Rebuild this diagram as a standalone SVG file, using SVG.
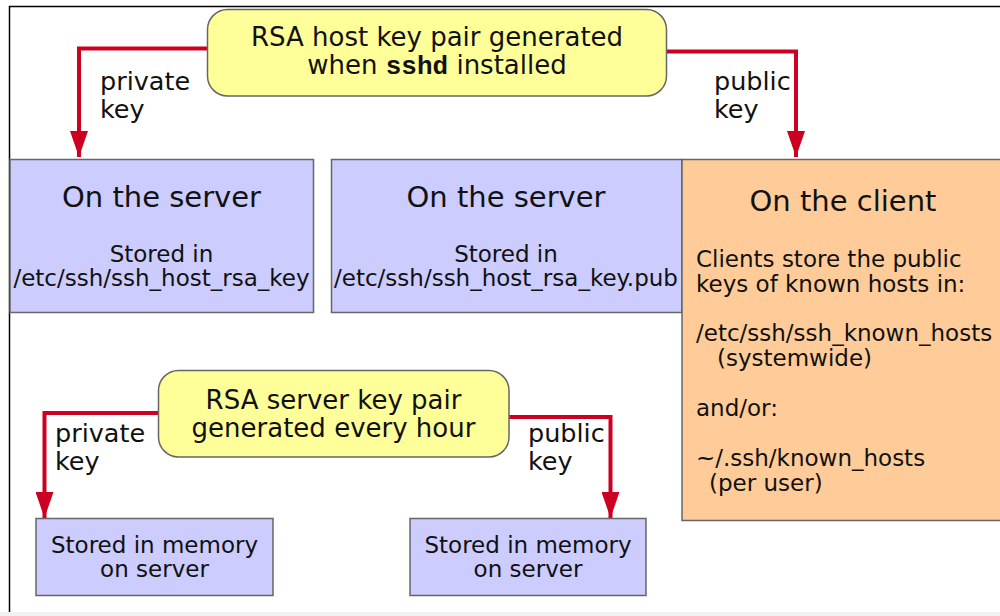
<svg xmlns="http://www.w3.org/2000/svg" width="1000" height="616" viewBox="0 0 1000 616">
<style>
text{font-family:"DejaVu Sans","Noto Sans",sans-serif;fill:#111}
.gen{fill:#ffff99;stroke:#666;stroke-width:1.5}
.srv{fill:#ccccff;stroke:#666;stroke-width:1.5}
.cli{fill:#ffcc99;stroke:#666;stroke-width:1.5}
.t26{font-size:26px}
.t29{font-size:29px}
.t23{font-size:23px}
.lbl{font-size:25.5px}
.c{text-anchor:middle}
.mono{font-family:"Liberation Mono","DejaVu Sans Mono",monospace;font-weight:bold}
.conn{fill:none;stroke:#cc0020;stroke-width:4}
</style>
<defs>
<marker id="ah" viewBox="0 0 26 18" refX="26" refY="9" markerWidth="26" markerHeight="18" markerUnits="userSpaceOnUse" orient="auto">
<path d="M0,0 L26,9 L0,18 Z" fill="#cc0020"/>
</marker>
</defs>
<rect width="1000" height="616" fill="#fff"/>
<rect x="0" y="612" width="1000" height="4" fill="#f2f2f2"/>
<path d="M9.5,612 V6.5 H1000" fill="none" stroke="#000" stroke-width="1.5"/>

<g id="connectors">
<path class="conn" d="M208,48.5 H79 V157" marker-end="url(#ah)"/>
<path class="conn" d="M667,51.5 H796 V157" marker-end="url(#ah)"/>
<path class="conn" d="M158,413 H44.5 V518" marker-end="url(#ah)"/>
<path class="conn" d="M509,417 H610.5 V518" marker-end="url(#ah)"/>
<text class="lbl" x="100" y="90">private</text>
<text class="lbl" x="100" y="118">key</text>
<text class="lbl" x="714" y="90">public</text>
<text class="lbl" x="714" y="118">key</text>
<text class="lbl" x="55" y="442">private</text>
<text class="lbl" x="55" y="470">key</text>
<text class="lbl" x="528" y="442">public</text>
<text class="lbl" x="528" y="470">key</text>
</g>

<g id="host-key-gen">
<rect class="gen" x="207.5" y="9.5" width="459" height="86.5" rx="20"/>
<text class="t26 c" x="437" y="46">RSA host key pair generated</text>
<text class="t26 c" x="437" y="74">when <tspan class="mono">sshd</tspan> installed</text>
</g>

<g id="server-private">
<rect class="srv" x="10" y="159.5" width="303.5" height="153"/>
<text class="t29 c" x="161.5" y="207">On the server</text>
<text class="t23 c" x="161.5" y="262">Stored in</text>
<text class="t23 c" x="161.5" y="286">/etc/ssh/ssh_host_rsa_key</text>
</g>

<g id="server-public">
<rect class="srv" x="331.5" y="159.5" width="350.5" height="153"/>
<text class="t29 c" x="506" y="207">On the server</text>
<text class="t23 c" x="506" y="262">Stored in</text>
<text class="t23 c" x="506" y="286">/etc/ssh/ssh_host_rsa_key.pub</text>
</g>

<g id="client">
<rect class="cli" x="682" y="159.5" width="330" height="361"/>
<text class="t29 c" x="843" y="211">On the client</text>
<text class="t23" x="696" y="267">Clients store the public</text>
<text class="t23" x="696" y="292">keys of known hosts in:</text>
<text class="t23" x="696" y="341">/etc/ssh/ssh_known_hosts</text>
<text class="t23" x="717" y="366">(systemwide)</text>
<text class="t23" x="696" y="416">and/or:</text>
<text class="t23" x="696" y="466">~/.ssh/known_hosts</text>
<text class="t23" x="709" y="491">(per user)</text>
</g>

<g id="server-key-gen">
<rect class="gen" x="158.5" y="370.5" width="350.5" height="86.5" rx="20"/>
<text class="t26 c" x="333.5" y="409">RSA server key pair</text>
<text class="t26 c" x="333.5" y="437">generated every hour</text>
</g>

<g id="memory-private">
<rect class="srv" x="36" y="518.5" width="237" height="77"/>
<text class="t23 c" x="154.5" y="553">Stored in memory</text>
<text class="t23 c" x="154.5" y="577">on server</text>
</g>

<g id="memory-public">
<rect class="srv" x="410" y="518.5" width="236" height="77"/>
<text class="t23 c" x="528" y="553">Stored in memory</text>
<text class="t23 c" x="528" y="577">on server</text>
</g>
</svg>
